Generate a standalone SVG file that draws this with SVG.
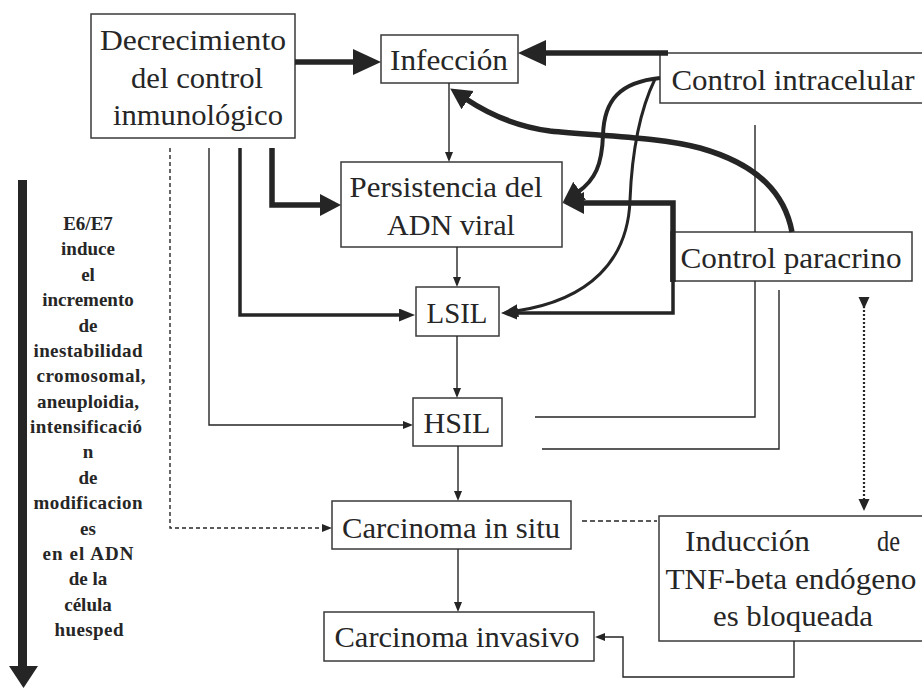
<svg xmlns="http://www.w3.org/2000/svg" width="922" height="688" viewBox="0 0 922 688">
<style>
.box{fill:#fff;stroke:#3a3a3a;stroke-width:1.5}
.t{font-family:'Liberation Serif','DejaVu Serif',serif;font-size:29px;fill:#262626;text-anchor:middle}
.tl{font-family:'Liberation Serif','DejaVu Serif',serif;font-size:29px;fill:#262626}
.side{font-family:'Liberation Serif','DejaVu Serif',serif;font-size:19px;font-weight:bold;fill:#262626;text-anchor:middle}
.c{fill:none;stroke:#252525;stroke-linejoin:miter}
.thin{stroke-width:1.4}
.thick{stroke-width:5.5}
.med{stroke-width:3.5}
</style>
<defs>
<marker id="aBig" markerUnits="userSpaceOnUse" markerWidth="30" markerHeight="28" viewBox="0 0 30 28" refX="2" refY="13" orient="auto"><path d="M0,0 L28,13 L0,26 Z" fill="#252525"/></marker>
<marker id="aMed" markerUnits="userSpaceOnUse" markerWidth="24" markerHeight="24" viewBox="0 0 24 24" refX="2" refY="11" orient="auto"><path d="M0,0 L21,11 L0,22 Z" fill="#252525"/></marker>
<marker id="aSm" markerUnits="userSpaceOnUse" markerWidth="18" markerHeight="15" viewBox="0 0 18 15" refX="2" refY="6.5" orient="auto"><path d="M0,0 L16,6.5 L0,13 Z" fill="#252525"/></marker>
<marker id="aThin" markerUnits="userSpaceOnUse" markerWidth="12" markerHeight="10" viewBox="0 0 12 10" refX="1" refY="4" orient="auto"><path d="M0,0 L10,4 L0,8 Z" fill="#252525"/></marker>
<marker id="aDot" markerUnits="userSpaceOnUse" markerWidth="14" markerHeight="13" viewBox="0 0 14 13" refX="1" refY="5.5" orient="auto"><path d="M0,0 L12,5.5 L0,11 Z" fill="#252525"/></marker>
</defs>
<rect width="922" height="688" fill="#fff"/>

<g id="nodes">
<g id="decrecimiento">
<rect class="box" x="91" y="14" width="204" height="124"/>
<text class="t" x="193" y="50" textLength="186" lengthAdjust="spacingAndGlyphs">Decrecimiento</text>
<text class="t" x="197" y="88" textLength="132" lengthAdjust="spacingAndGlyphs">del control</text>
<text class="t" x="198" y="125" textLength="170" lengthAdjust="spacingAndGlyphs">inmunológico</text>
</g>
<g id="infeccion">
<rect class="box" x="381" y="35" width="137" height="48"/>
<text class="t" x="449" y="70" textLength="118" lengthAdjust="spacingAndGlyphs">Infección</text>
</g>
<g id="control-intracelular">
<rect class="box" x="660" y="53" width="270" height="50"/>
<text class="t" x="793" y="90" textLength="243" lengthAdjust="spacingAndGlyphs">Control intracelular</text>
</g>
<g id="persistencia">
<rect class="box" x="341" y="162" width="221" height="85"/>
<text class="t" x="446" y="197" textLength="193" lengthAdjust="spacingAndGlyphs">Persistencia del</text>
<text class="t" x="451" y="235" textLength="128" lengthAdjust="spacingAndGlyphs">ADN viral</text>
</g>
<g id="control-paracrino">
<rect class="box" x="671" y="232" width="241" height="49"/>
<text class="t" x="791" y="268" textLength="221" lengthAdjust="spacingAndGlyphs">Control paracrino</text>
</g>
<g id="lsil">
<rect class="box" x="416" y="287" width="83" height="49"/>
<text class="t" x="457" y="323" textLength="61" lengthAdjust="spacingAndGlyphs">LSIL</text>
</g>
<g id="hsil">
<rect class="box" x="413" y="398" width="89" height="48"/>
<text class="t" x="457" y="433" textLength="67" lengthAdjust="spacingAndGlyphs">HSIL</text>
</g>
<g id="carcinoma-in-situ">
<rect class="box" x="332" y="501" width="239" height="48"/>
<text class="t" x="451" y="538" textLength="218" lengthAdjust="spacingAndGlyphs">Carcinoma in situ</text>
</g>
<g id="carcinoma-invasivo">
<rect class="box" x="324" y="612" width="270" height="49"/>
<text class="t" x="457" y="647" textLength="245" lengthAdjust="spacingAndGlyphs">Carcinoma invasivo</text>
</g>
<g id="induccion">
<rect class="box" x="659" y="516" width="270" height="125"/>
<text class="tl" x="685" y="551" textLength="125" lengthAdjust="spacingAndGlyphs">Inducción</text>
<text class="tl" x="877" y="551" textLength="23" lengthAdjust="spacingAndGlyphs">de</text>
<text class="t" x="791" y="589" textLength="251" lengthAdjust="spacingAndGlyphs">TNF-beta endógeno</text>
<text class="t" x="793" y="626" textLength="160" lengthAdjust="spacingAndGlyphs">es bloqueada</text>
</g>
<g id="side-note">
<rect x="18" y="180" width="9" height="488" fill="#252525"/>
<polygon points="9,666 38,666 23.5,688" fill="#252525"/>
<text class="side" x="88" y="230">E6/E7</text>
<text class="side" x="88" y="255">induce</text>
<text class="side" x="88" y="281">el</text>
<text class="side" x="88" y="306">incremento</text>
<text class="side" x="88" y="332">de</text>
<text class="side" x="88" y="357" textLength="109">inestabilidad</text>
<text class="side" x="91" y="382" textLength="109">cromosomal,</text>
<text class="side" x="88" y="408" textLength="102">aneuploidia,</text>
<text class="side" x="86" y="433" textLength="112">intensificació</text>
<text class="side" x="88" y="458">n</text>
<text class="side" x="88" y="484">de</text>
<text class="side" x="88" y="509" textLength="109">modificacion</text>
<text class="side" x="88" y="535">es</text>
<text class="side" x="88" y="560" textLength="91">en el ADN</text>
<text class="side" x="88" y="585">de la</text>
<text class="side" x="88" y="611">célula</text>
<text class="side" x="89" y="636" textLength="69">huesped</text>
</g>
</g>

<g id="connectors">
<path class="c thick" d="M295,62 H355" marker-end="url(#aBig)"/>
<path class="c thick" d="M668,53 H544" marker-end="url(#aBig)"/>
<path class="c thin" d="M449,83 V153" marker-end="url(#aThin)"/>
<path class="c thick" d="M272,148 V205 H322" marker-end="url(#aMed)"/>
<path class="c med" d="M240,148 V315 H401" marker-end="url(#aSm)"/>
<path class="c thin" d="M209,148 V425 H404" marker-end="url(#aThin)"/>
<path class="c thin" d="M170,148 V528 H323" stroke-dasharray="4 3" marker-end="url(#aThin)"/>
<path class="c thin" d="M457,247 V278" marker-end="url(#aThin)"/>
<path class="c thin" d="M457,336 V389" marker-end="url(#aThin)"/>
<path class="c thin" d="M458,446 V492" marker-end="url(#aThin)"/>
<path class="c thin" d="M458,549 V603" marker-end="url(#aThin)"/>
<path class="c thick" d="M673,282 V203 H582" marker-end="url(#aMed)"/>
<path class="c med" d="M673,280 V313 H515" marker-end="url(#aSm)"/>
<path class="c" stroke-width="4" d="M660,78 C620,82 604,100 603,135 C602,165 595,180 578,192" marker-end="url(#aMed)"/>
<path class="c" stroke-width="3" d="M655,79 C640,110 632,150 630,200 C628,260 590,300 516,311" marker-end="url(#aSm)"/>
<path class="c thick" d="M792,232 C785,195 760,165 700,148 C660,137 600,136 550,131 C520,127 490,115 466,99" marker-end="url(#aMed)"/>
<path class="c thin" d="M755,125 V232"/>
<path class="c thin" d="M755,281 V417 H535"/>
<path class="c thin" d="M779,290 V449 H542"/>
<path class="c" stroke-width="2.2" stroke-dasharray="2 2" d="M864,298 V500" marker-start="url(#aDot)" marker-end="url(#aDot)"/>
<path class="c thin" d="M582,521 H657" stroke-dasharray="5 3"/>
<path class="c thin" d="M794,641 V677 H623 V637 H604" marker-end="url(#aThin)"/>
</g>
</svg>
